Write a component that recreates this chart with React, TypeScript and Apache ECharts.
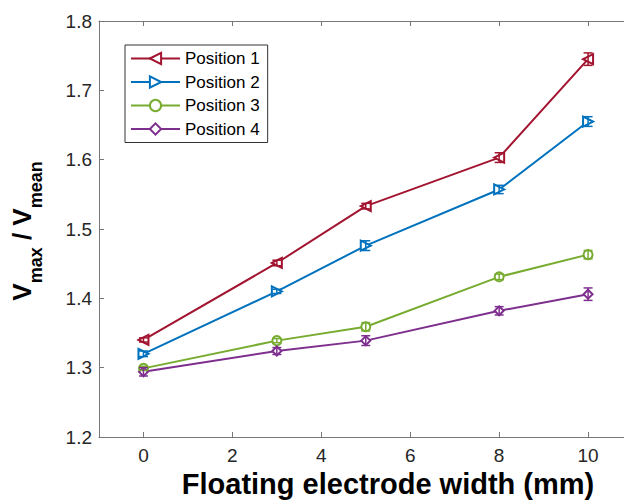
import React, { useEffect, useRef } from "react";
import * as echarts from "echarts";

const widths = [0, 3, 5, 8, 10];
const seriesNames = ["Position 1", "Position 2", "Position 3", "Position 4"];
const pos1 = [1.34, 1.451, 1.533, 1.603, 1.745];
const pos2 = [1.32, 1.41, 1.476, 1.557, 1.655];
const pos3 = [1.299, 1.339, 1.359, 1.431, 1.463];
const pos4 = [1.294, 1.324, 1.339, 1.382, 1.406];
const err1 = [0.003, 0.004, 0.004, 0.007, 0.009];
const err2 = [0.004, 0.003, 0.007, 0.006, 0.007];
const err3 = [0.003, 0.003, 0.006, 0.004, 0.006];
const err4 = [0.006, 0.005, 0.007, 0.006, 0.009];
const xTickValues = [0, 2, 4, 6, 8, 10];
const colors = ["#A2142F", "#0072BD", "#77AC30", "#7E2F8E"];
const symbols = ["emptyTriangle", "emptyTriangle", "emptyCircle", "emptyDiamond"];
const symbolRotates = [90, -90, 0, 0];

const FONT = '"Liberation Sans", Arial, Helvetica, sans-serif';
const AXIS_COLOR = "#777777";
const TEXT_COLOR = "#262626";

function measure(text: string, font: string): number {
  const c = document.createElement("canvas");
  const ctx = c.getContext("2d");
  if (!ctx) return text.length * 10;
  ctx.font = font;
  return ctx.measureText(text).width;
}

export default function App() {
  const ref = useRef<HTMLDivElement>(null);
  useEffect(() => {
    if (!ref.current) return;
    const chart = echarts.init(ref.current, undefined, { renderer: "svg" });
    const values = [pos1, pos2, pos3, pos4];
    const errs = [err1, err2, err3, err4];

    const lineSeries = values.map((vals, i) => ({
      type: "line",
      name: seriesNames[i],
      data: widths.map((w, j) => [w, vals[j]]),
      symbol: symbols[i],
      symbolRotate: symbolRotates[i],
      symbolSize: i < 2 ? 10 : 9,
      showAllSymbol: true,
      lineStyle: { color: colors[i], width: 2 },
      itemStyle: { color: colors[i], borderWidth: 1.5 },
      z: 3,
    }));

    const errSeries = values.map((vals, i) => ({
      type: "custom",
      name: "err" + (i + 1),
      data: widths.map((w, j) => [w, vals[j] - errs[i][j], vals[j] + errs[i][j]]),
      encode: { x: 0, y: [1, 2] },
      z: 4,
      renderItem: (params: any, api: any) => {
        const x = api.value(0);
        const p1 = api.coord([x, api.value(1)]);
        const p2 = api.coord([x, api.value(2)]);
        const hw = 4.5;
        const st = { stroke: colors[i], lineWidth: 1.5 };
        return {
          type: "group",
          children: [
            { type: "line", shape: { x1: p1[0], y1: p1[1], x2: p2[0], y2: p2[1] }, style: st },
            { type: "line", shape: { x1: p1[0] - hw, y1: p1[1], x2: p1[0] + hw, y2: p1[1] }, style: st },
            { type: "line", shape: { x1: p2[0] - hw, y1: p2[1], x2: p2[0] + hw, y2: p2[1] }, style: st },
          ],
        };
      },
    }));

    // y-axis label with subscripts
    const bigFont = `bold 26px ${FONT}`;
    const subFont = `bold 18px ${FONT}`;
    const parts = [
      { t: "V", f: bigFont, sub: false },
      { t: "max", f: subFont, sub: true },
      { t: " / V", f: bigFont, sub: false },
      { t: "mean", f: subFont, sub: true },
    ];
    const pw = parts.map((p) => measure(p.t, p.f));
    const total = pw.reduce((a, b) => a + b, 0);
    const centerY = 231;
    let acc = 0;
    const labelChildren = parts.map((p, k) => {
      const el = {
        type: "text",
        x: acc,
        y: p.sub ? 14 : 0,
        style: {
          text: p.t,
          font: p.f,
          fill: "#000",
          textAlign: "left",
          textVerticalAlign: "middle",
        },
      };
      acc += pw[k];
      return el;
    });

    const option: any = {
      animation: false,
      backgroundColor: "#ffffff",
      textStyle: { fontFamily: FONT },
      grid: { left: 99, top: 21, width: 578, height: 416, containLabel: false, outerBoundsMode: "none" },
      legend: {
        data: seriesNames,
        orient: "vertical",
        left: 125,
        top: 45,
        itemWidth: 49,
        itemHeight: 14,
        itemGap: 6.5,
        padding: [5, 8, 5, 5],
        borderColor: "#333333",
        borderWidth: 1,
        backgroundColor: "#ffffff",
        textStyle: { fontSize: 17, color: "#000", fontFamily: FONT, lineHeight: 17 },
      },
      xAxis: [
        {
          type: "value",
          min: -1,
          max: 12,
          position: "bottom",
          name: "Floating electrode width (mm)",
          nameLocation: "middle",
          nameGap: 30,
          nameTextStyle: { fontSize: 29, fontWeight: "bold", color: "#000", fontFamily: FONT },
          splitLine: { show: false },
          axisLine: { show: true, onZero: false, lineStyle: { color: AXIS_COLOR, width: 1 } },
          axisTick: { show: true, inside: true, length: 5, customValues: xTickValues, lineStyle: { color: AXIS_COLOR } },
          axisLabel: { customValues: xTickValues, fontSize: 19, color: TEXT_COLOR, margin: 9, fontFamily: FONT },
        },
        {
          type: "value",
          min: -1,
          max: 12,
          position: "top",
          splitLine: { show: false },
          axisLine: { show: true, onZero: false, lineStyle: { color: AXIS_COLOR, width: 1 } },
          axisTick: { show: true, inside: true, length: 5, customValues: xTickValues, lineStyle: { color: AXIS_COLOR } },
          axisLabel: { show: false },
        },
      ],
      yAxis: {
        type: "value",
        min: 1.2,
        max: 1.8,
        interval: 0.1,
        splitLine: { show: false },
        axisLine: { show: true, onZero: false, lineStyle: { color: AXIS_COLOR, width: 1 } },
        axisTick: { show: true, inside: true, length: 5, lineStyle: { color: AXIS_COLOR } },
        axisLabel: {
          fontSize: 19,
          color: TEXT_COLOR,
          margin: 7,
          fontFamily: FONT,
          formatter: (v: number) => v.toFixed(1),
        },
      },
      graphic: [
        {
          type: "group",
          x: 22,
          y: centerY + total / 2,
          rotation: Math.PI / 2,
          children: labelChildren,
        },
      ],
      series: [...lineSeries, ...errSeries],
    };
    chart.setOption(option);
    return () => chart.dispose();
  }, []);
  return (
    <div
      ref={ref}
      style={{ position: "absolute", left: 0, top: 0, width: 624, height: 504 }}
    />
  );
}
